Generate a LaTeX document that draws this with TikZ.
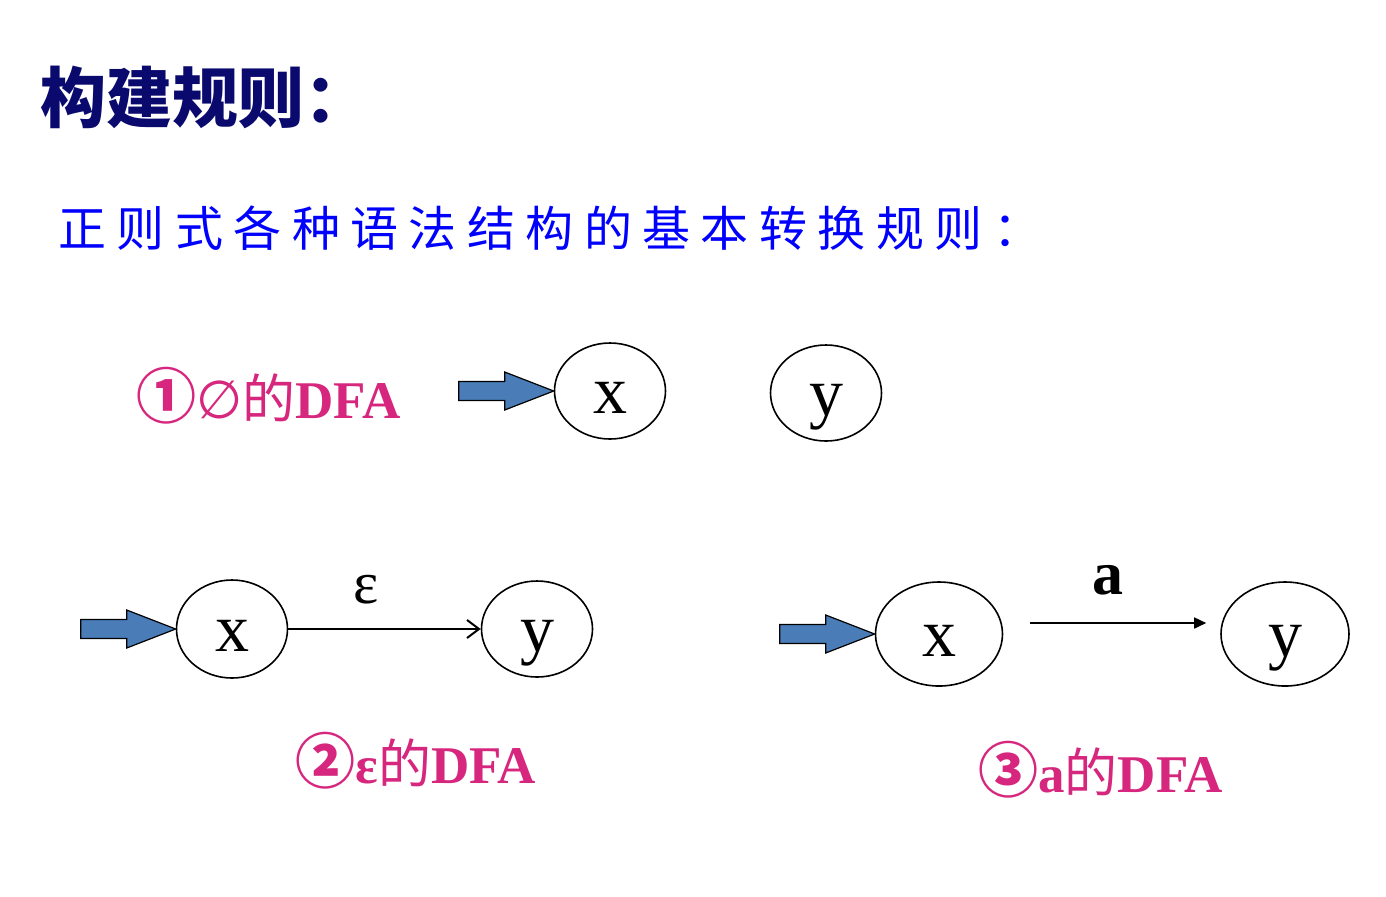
\documentclass[tikz,border=0pt]{standalone}
\usepackage{fontspec}
\setmainfont{Liberation Serif}
\newfontfamily\cjk{Noto Sans CJK SC}
\newfontfamily\djv{DejaVu Sans}
\usetikzlibrary{shapes.geometric,arrows.meta}
\definecolor{navy}{RGB}{10,10,110}
\definecolor{pinkm}{RGB}{214,38,125}
\definecolor{fatblue}{RGB}{74,125,183}
\newcommand{\circnum}[1]{{\cjk\bfseries\fontsize{30}{30}\selectfont #1}}
\tikzset{
  txt/.style={inner sep=0pt},
  sstate/.style={ellipse, draw, line width=0.8pt, inner sep=0pt,
    minimum width=55.5pt, minimum height=48pt,
    font=\fontsize{34}{34}\selectfont, text height=24pt, text depth=1.6pt},
  bstate/.style={sstate, minimum width=63.5pt, minimum height=52pt},
  fatarrow/.style={draw=black, line width=0.6pt, fill=fatblue, line join=miter},
  lbl/.style={txt, anchor=base west, text=pinkm, font=\fontsize{26.5}{26.5}\selectfont\bfseries},
  epsedge/.style={line width=1pt, -{Straight Barb[length=6pt,width=9pt]}},
  aedge/.style={line width=0.8pt, -{Triangle[length=6pt,width=5.5pt]}}
}
\begin{document}
\begin{tikzpicture}[x=0.5pt,y=-0.5pt]
\useasboundingbox (0,0) rectangle (1386,896);
% title
\node[txt, anchor=west, text=navy, font=\cjk\bfseries\fontsize{33}{33}\selectfont] (title) at (40,97) {构建规则：};
\node[txt, anchor=west, text=blue, font=\cjk\fontsize{24}{24}\selectfont\addfontfeature{LetterSpace=21.7}] (sub) at (58,228) {正则式各种语法结构的基本转换规则：};
% section 1
\node[lbl] (l1) at (136,418) {\circnum{①}{\djv\mdseries ∅}{\cjk\mdseries 的}DFA};
\node[sstate] (x1) at (610,391) {x};
\node[sstate] (y1) at (826,393) {y};
% section 2
\node[sstate, minimum height=49pt] (x2) at (232,629) {x};
\node[sstate] (y2) at (537,629) {y};
\draw[epsedge] (x2.east) -- (y2.west);
\node[txt, font=\fontsize{30}{30}\selectfont] (eps) at (366,590) {ε};
\node[lbl] (l2) at (295,783) {\circnum{②}ε{\cjk\mdseries 的}DFA};
% section 3
\node[bstate] (x3) at (939,634) {x};
\node[bstate, minimum width=64pt] (y3) at (1285,634) {y};
\draw[aedge] ([xshift=13.5pt,yshift=5.5pt]x3.east) -- ([xshift=-7pt,yshift=5.5pt]y3.west);
\node[txt, font=\bfseries\fontsize{31}{31}\selectfont] (alab) at (1108,580) {a};
\node[lbl] (l3) at (978,792) {\circnum{③}a{\cjk\mdseries 的}DFA};
% start arrows
\foreach \n in {x1,x2,x3}
  \draw[fatarrow] (\n.west) -- ++(-49,-19) -- ++(0,9.5) -- ++(-46,0) -- ++(0,19) -- ++(46,0) -- ++(0,9.5) -- cycle;
\end{tikzpicture}
\end{document}
